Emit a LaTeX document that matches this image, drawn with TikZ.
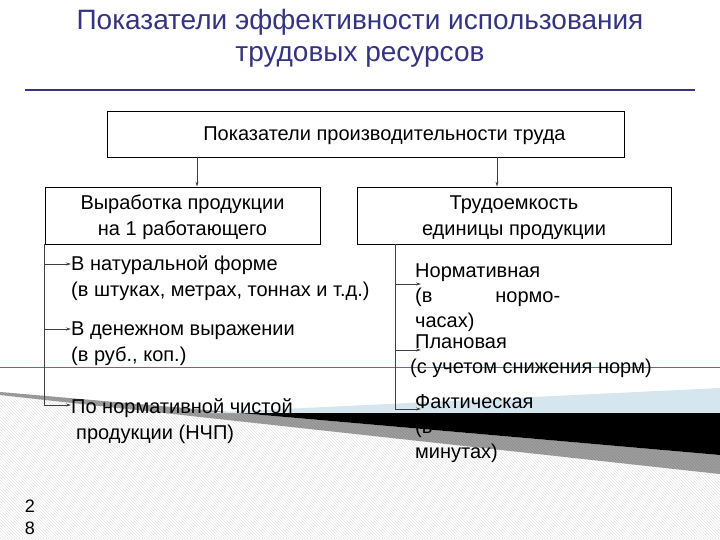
\documentclass[tikz,border=0pt]{standalone}
\usepackage{fontspec}
\setmainfont{Liberation Sans}
\usetikzlibrary{arrows.meta,patterns,positioning}
\definecolor{titleblue}{RGB}{52,52,130}
\definecolor{sealine}{RGB}{49,132,155}
\definecolor{paleblue}{RGB}{214,230,238}
\definecolor{linkgray}{RGB}{64,64,64}

\begin{document}
\begin{tikzpicture}[x=1pt,y=-1pt,>={Stealth[length=5pt,width=3pt]}]
  \useasboundingbox (0,0) rectangle (720,540);
  \tikzstyle{bnode} = [draw=black, line width=0.8pt, rectangle, inner sep=2pt, align=center, text depth=0pt, font=\fontsize{20}{26}\selectfont]
  \tikzstyle{lnode} = [anchor=west, inner sep=0pt, align=left, font=\fontsize{20}{26}\selectfont]
  \tikzstyle{rnode} = [anchor=west, inner sep=0pt, align=left, font=\fontsize{20}{25}\selectfont]
  \tikzstyle{link} = [draw=linkgray, line width=0.7pt]

  % slide background
  \fill[pattern=north west lines, pattern color=gray!22] (0,395) -- (720,474) -- (720,540) -- (0,540) -- cycle;
  \fill[gray!75] (0,392) -- (720,455) -- (720,474) -- (0,395) -- cycle;
  \fill[pattern=north west lines, pattern color=black!45] (0,392) -- (720,455) -- (720,474) -- (0,395) -- cycle;
  \fill[paleblue] (200,413) -- (720,388) -- (720,413) -- cycle;
  \draw[sealine, line width=0.8pt] (0,367) -- (720,367);

  % title
  \node[text=titleblue, align=center, font=\fontsize{28}{32}\selectfont] (title) at (360,38)
    {Показатели эффективности использования\\трудовых ресурсов};
  \draw[titleblue, line width=2.2pt] (25,90) -- (695,90);

  \node[bnode, minimum width=517, minimum height=46] (top) at (365.5,134)
    {\hspace*{38pt}Показатели производительности труда};
  \node[bnode, minimum width=275, minimum height=57] (vyr) at (182.5,215.5)
    {Выработка продукции\\на 1 работающего};
  \node[bnode, minimum width=314, minimum height=57] (trud) at (514,215.5)
    {Трудоемкость\\единицы продукции};

  \draw[link, ->] ([xshift=-168.5pt]top.south) -- ([xshift=14.5pt]vyr.north);
  \draw[link, ->] ([xshift=131.5pt]top.south) -- ([xshift=-17pt]trud.north);

  % left branch
  \node[lnode] (nat) at (71,278) {В натуральной форме\\(в штуках, метрах, тоннах и т.д.)};
  \node[lnode] (den) at (71,343.5) {В денежном выражении\\(в руб., коп.)};
  \node[lnode] (nchp) at (71,421) {По нормативной чистой\\\hspace*{5pt}продукции (НЧП)};

  \draw[link, ->] (vyr.south west) |- ([yshift=14pt]nat.west);
  \draw[link, ->] (vyr.south west) |- ([yshift=14.5pt]den.west);
  \draw[link, ->] (vyr.south west) |- ([yshift=16pt]nchp.west);

  % right branch
  \node[rnode] (norm) at (415,298) {Нормативная\\\makebox[145pt][s]{(в нормо-}\\часах)};
  \node[rnode] (plan) at (410,356) {\hspace*{5pt}Плановая\\(с учетом снижения норм)};
  \node[rnode] (fact) at (415,429) {Фактическая\\(в\\минутах)};

  \draw[link, ->] ([xshift=39pt]trud.south west) |- ([yshift=14pt,xshift=6pt]norm.west);
  \draw[link, ->] ([xshift=39pt]trud.south west) |- ([yshift=6pt,xshift=11pt]plan.west);
  \draw[link, ->] ([xshift=39pt]trud.south west) |- ([yshift=20pt,xshift=6pt]fact.west);

  \fill[black] (240,413) -- (720,413) -- (720,455) -- cycle;

  \node[align=center, inner sep=0pt, font=\fontsize{18}{22}\selectfont] (page) at (30,517) {2\\8};
\end{tikzpicture}
\end{document}
